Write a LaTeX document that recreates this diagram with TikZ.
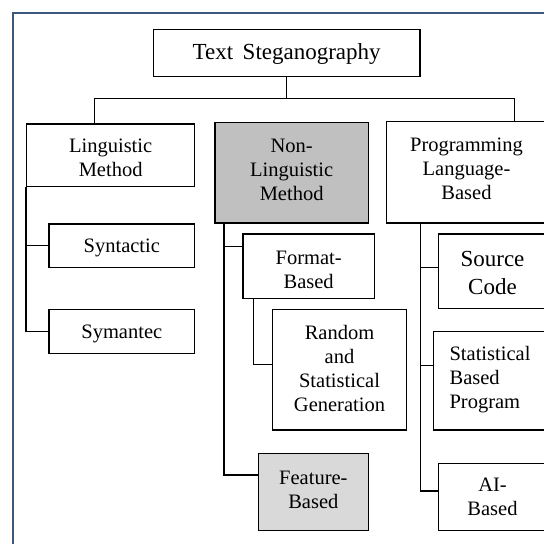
\documentclass[tikz,border=0pt]{standalone}
\usepackage{fontspec}
\setmainfont{Liberation Serif}
\definecolor{framecol}{RGB}{62,88,125}
\definecolor{darkfill}{RGB}{192,192,192}
\definecolor{lightfill}{RGB}{217,217,217}
\begin{document}
\begin{tikzpicture}[x=1pt,y=-1pt,
  boxnode/.style={draw=black,line width=1.3pt,fill=white,rectangle,inner sep=0pt,
    anchor=north west},
  txt/.style={inner sep=0pt,align=center,font=\fontsize{20.5}{24}\selectfont},
  bigtext/.style={font=\fontsize{23}{28}\selectfont},
  conn/.style={draw=black,line width=1.1pt},
  frameline/.style={draw=framecol,line width=1.8pt}]
\useasboundingbox (0,0) rectangle (544,544);
\clip (0,0) rectangle (544,544);
\fill[white] (0,0) rectangle (544,544);
\draw[frameline] (13.3,13.3) rectangle (600,600);

% boxes
\node[boxnode,minimum width=266.6pt,minimum height=46.7pt] (title) at (152.7,29) {};
\node[boxnode,minimum width=168pt,minimum height=62.7pt] (ling) at (26,123.3) {};
\node[boxnode,fill=darkfill,minimum width=153.4pt,minimum height=100.6pt] (nonling) at (214.3,121.7) {};
\node[boxnode,minimum width=160.3pt,minimum height=101.3pt] (prog) at (385.7,121) {};
\node[boxnode,minimum width=145.7pt,minimum height=43.4pt] (syn) at (48.3,223.3) {};
\node[boxnode,minimum width=145.7pt,minimum height=44.3pt] (sym) at (48.3,308.7) {};
\node[boxnode,minimum width=131.4pt,minimum height=64.7pt] (fmt) at (242.3,233.3) {};
\node[boxnode,minimum width=134.3pt,minimum height=120.6pt] (rand) at (271.7,308.7) {};
\node[boxnode,fill=lightfill,minimum width=110pt,minimum height=77pt] (feat) at (257.7,452.7) {};
\node[boxnode,minimum width=108.3pt,minimum height=74.7pt] (src) at (437.7,233.3) {};
\node[boxnode,minimum width=113.3pt,minimum height=98.3pt] (stat) at (432.7,331) {};
\node[boxnode,minimum width=108.3pt,minimum height=67pt] (ai) at (437.7,462.7) {};

% texts
\node[txt,bigtext] (titlet) at ([yshift=-1pt]title.center) {Text\, Steganography};
\node[txt] (lingt) at ([yshift=-3pt]ling.center) {Linguistic\\Method};
\node[txt] (nonlingt) at ([yshift=3pt]nonling.center) {Non-\\Linguistic\\Method};
\node[txt] (progt) at ([yshift=3pt]prog.center) {Programming\\Language-\\Based};
\node[txt] (synt) at ([yshift=-2.5pt]syn.center) {Syntactic};
\node[txt] (symt) at ([yshift=-2.5pt]sym.center) {Symantec};
\node[txt] (fmtt) at ([yshift=-4pt]fmt.center) {Format-\\Based};
\node[txt] (randt) at ([yshift=1pt]rand.center) {Random\\and\\Statistical\\Generation};
\node[txt] (featt) at ([yshift=2pt]feat.center) {Feature-\\Based};
\node[txt,bigtext] (srct) at ([yshift=-1.5pt]src.center) {Source\\Code};
\node[txt,align=left] (statt) at ([yshift=1.5pt]stat.center) {Statistical\\Based\\Program};
\node[txt] (ait) at (ai.center) {AI-\\Based};

% top level connectors
\coordinate (j1) at (94.3,98.7);
\coordinate (j2) at (514.7,98.7);
\draw[conn] (title.south) -- (title.south |- j1);
\draw[conn] (ling.north -| j1) -- (j1) -- (j2) -- (prog.north -| j2);

% linguistic branch
\draw[conn] (ling.south west) |- (sym.west);
\draw[conn] (ling.south west |- syn.west) -- (syn.west);

% non-linguistic branch
\coordinate (nlb) at ([xshift=9.7pt]nonling.south west);
\coordinate (fmtc) at ([yshift=19.7pt]fmt.west);
\coordinate (featc) at ([yshift=16.9pt]feat.west);
\draw[conn] (nlb) |- (featc);
\draw[conn] (nlb |- fmtc) -- (fmtc);

% format branch
\coordinate (fb) at ([xshift=11pt]fmt.south west);
\coordinate (randc) at ([yshift=5.3pt]rand.west);
\draw[conn] (fb) |- (randc);

% programming branch
\coordinate (pb) at ([xshift=34.5pt]prog.south west);
\coordinate (srcc) at ([yshift=3.7pt]src.west);
\coordinate (statc) at ([yshift=15.3pt]stat.west);
\coordinate (aic) at ([yshift=5.9pt]ai.west);
\draw[conn] (pb) |- (aic);
\draw[conn] (pb |- srcc) -- (srcc);
\draw[conn] (pb |- statc) -- (statc);
\end{tikzpicture}
\end{document}
